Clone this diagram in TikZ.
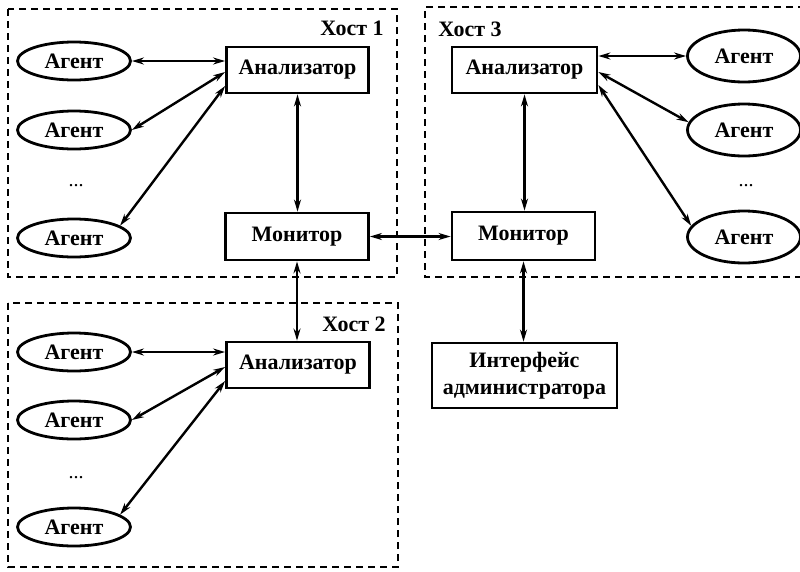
\documentclass[tikz,border=0pt]{standalone}
\usepackage{fontspec}
\setmainfont{Liberation Serif}
\usetikzlibrary{arrows.meta,calc,shapes.geometric}
\begin{document}
\begin{tikzpicture}[x=1pt,y=-1pt,
  font=\fontsize{22}{26}\selectfont\bfseries,
  boxnode/.style={draw,line width=2.8pt,inner sep=0pt,align=center},
  agent/.style={draw,ellipse,line width=2.8pt,inner sep=0pt,minimum width=113pt,minimum height=38pt},
  bigagent/.style={agent,minimum height=52pt},
  hostbox/.style={line width=1.4pt,dash pattern=on 7pt off 5pt},
  link/.style={line width=2.4pt,{Stealth[length=12pt,width=7pt]}-{Stealth[length=12pt,width=7pt]}},
  lbl/.style={inner sep=0pt},
  dots/.style={inner sep=0pt,font=\fontsize{20}{24}\selectfont\mdseries}]
\useasboundingbox (0,0) rectangle (800,571);
% host frames
\draw[hostbox] (8,9) rectangle (397,277);
\draw[hostbox] (8,303) rectangle (398,567);
\draw[hostbox] (805,7) -- (425,7) -- (425,277) -- (805,277);
\node[lbl] (h1) at (352,28) {Хост 1};
\node[lbl] (h3) at (470,29) {Хост 3};
\node[lbl] (h2) at (354,324) {Хост 2};
% boxes
\node[boxnode,minimum width=142pt,minimum height=46pt] (an1) at (297.5,70) {Анализатор};
\node[boxnode,minimum width=143pt,minimum height=47pt] (mon1) at (297,236.5) {Монитор};
\node[boxnode,minimum width=143pt,minimum height=46pt] (an2) at (298,365) {Анализатор};
\node[boxnode,minimum width=145pt,minimum height=46pt] (an3) at (524.5,70) {Анализатор};
\node[boxnode,minimum width=143pt,minimum height=48pt] (mon3) at (523.5,236) {Монитор};
\node[boxnode,minimum width=185pt,minimum height=65pt] (intf) at (524.5,375.5) {Интерфейс\\[1pt]администратора};
% agents host 1
\node[agent] (a11) at (74,61) {Агент};
\node[agent] (a12) at (74,130) {Агент};
\node[dots] (d1) at (76,186) {...};
\node[agent] (a13) at (74,238) {Агент};
% agents host 2
\node[agent] (a21) at (74,352) {Агент};
\node[agent] (a22) at (74,420) {Агент};
\node[dots] (d2) at (76,478) {...};
\node[agent] (a23) at (74,527) {Агент};
% agents host 3
\node[bigagent] (a31) at (744,56) {Агент};
\node[bigagent] (a32) at (744,130) {Агент};
\node[dots] (d3) at (746,186) {...};
\node[bigagent] (a33) at (744,237) {Агент};
% links host 1
\draw[link] (a11.east) -- (an1.west |- a11.east);
\draw[link] (a12.east) -- ($(an1.west)+(0,2)$);
\draw[link] (a13.15) -- ($(an1.west)+(0,16)$);
% links host 2
\draw[link] (a21.east) -- (an2.west |- a21.east);
\draw[link] (a22.east) -- ($(an2.west)+(0,2)$);
\draw[link] (a23.15) -- ($(an2.west)+(0,16)$);
% links host 3
\draw[link] (an3.east |- a31.west) -- (a31.west);
\draw[link] ($(an3.east)+(0,2)$) -- (a32.172);
\draw[link] ($(an3.east)+(0,15)$) -- (a33.168);
% vertical and monitor links
\draw[link] (an1.south) -- (an1.south |- mon1.north);
\draw[link] (mon1.south) -- (mon1.south |- an2.north);
\draw[link] (mon1.east) -- (mon3.west |- mon1.east);
\draw[link] (an3.south) -- (an3.south |- mon3.north);
\draw[link] (mon3.south) -- (mon3.south |- intf.north);
\end{tikzpicture}
\end{document}
